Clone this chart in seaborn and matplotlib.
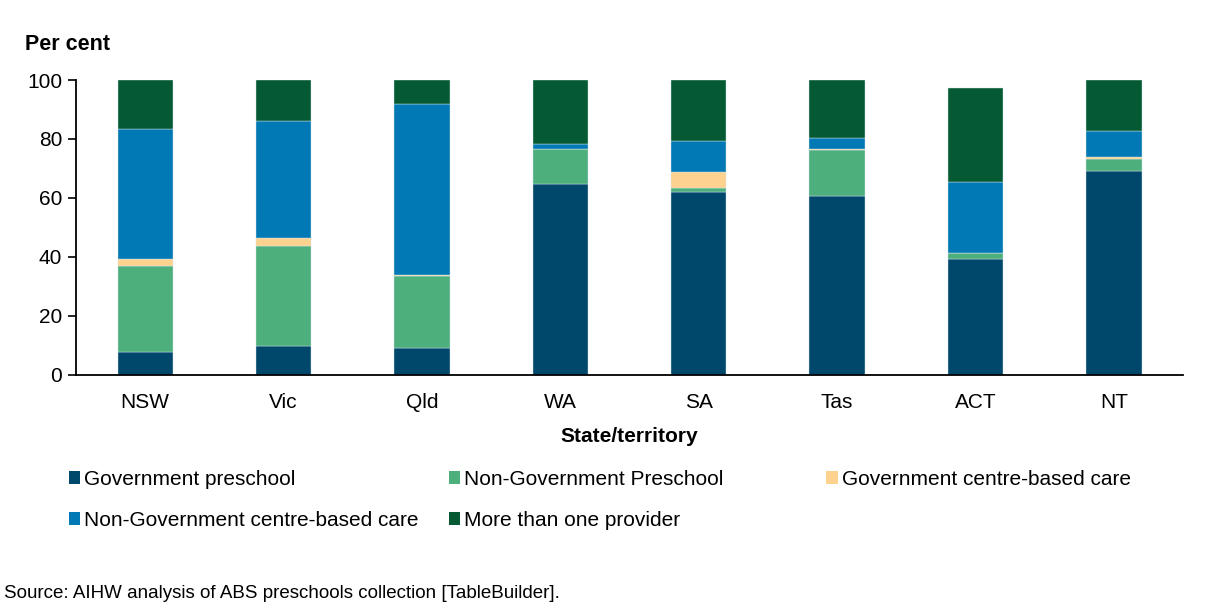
import numpy as np
import pandas as pd
import matplotlib
matplotlib.use("Agg")
import matplotlib.pyplot as plt
import seaborn as sns
from matplotlib.patches import Patch

states = ["NSW", "Vic", "Qld", "WA", "SA", "Tas", "ACT", "NT"]
gov_preschool = [7.7, 9.7, 9.2, 64.9, 62.1, 60.8, 39.3, 69.3]
nongov_preschool = [29.3, 34.1, 24.2, 11.6, 1.4, 15.5, 2.2, 4.0]
gov_cbc = [2.4, 2.6, 0.4, 0.0, 5.4, 0.3, 0.0, 0.5]
nongov_cbc = [44.1, 39.7, 58.0, 1.8, 10.4, 3.6, 23.8, 8.9]
more_than_one = [16.5, 13.9, 8.2, 21.7, 20.7, 19.8, 32.0, 17.3]

series_names = ["Government preschool", "Non-Government Preschool",
                "Government centre-based care", "Non-Government centre-based care",
                "More than one provider"]
series_vals = [gov_preschool, nongov_preschool, gov_cbc, nongov_cbc, more_than_one]
colors = ["#00486B", "#4CAF7C", "#FDD28F", "#0079B5", "#055A34"]

sns.set_theme(style="white")
plt.rcParams["font.family"] = ["Liberation Sans", "DejaVu Sans"]
plt.rcParams["text.color"] = "black"
plt.rcParams["xtick.color"] = "black"
plt.rcParams["ytick.color"] = "black"
plt.rcParams["axes.labelcolor"] = "black"

fig = plt.figure(figsize=(12.1, 6.14), dpi=100)
ax = fig.add_axes([0.0628, 0.3893, 0.9149, 0.4804])

bottom = np.zeros(len(states))
for name, vals, col in zip(series_names, series_vals, colors):
    df = pd.DataFrame({"state": states, "value": vals})
    sns.barplot(data=df, x="state", y="value", order=states, color=col,
                width=0.4, bottom=bottom, ax=ax, linewidth=0.3,
                edgecolor="#d8e6ee", saturation=1)
    bottom = bottom + np.array(vals)

ax.set_ylim(0, 100)
ax.set_xlim(-0.5, 7.5)
ax.set_yticks([0, 20, 40, 60, 80, 100])
ax.tick_params(axis="y", which="major", direction="out", length=6, width=1.2,
               color="black", labelsize=15, pad=4, left=True)
ax.tick_params(axis="x", length=0, labelsize=15, pad=13)
for s in ["top", "right"]:
    ax.spines[s].set_visible(False)
for s in ["left", "bottom"]:
    ax.spines[s].set_color("black")
    ax.spines[s].set_linewidth(1.3)
ax.set_ylabel("")
ax.set_xlabel("State/territory", fontsize=15, fontweight="bold", labelpad=11)

fig.text(0.0207, 0.927, "Per cent", fontsize=15.5, fontweight="bold", va="center", ha="left")

handles = [Patch(facecolor=c, edgecolor="none") for c in colors]
col_groups = [([0, 3], 0.050), ([1, 4], 0.364), ([2], 0.676)]
for idx, x in col_groups:
    leg = fig.legend([handles[i] for i in idx], [series_names[i] for i in idx],
                     loc="upper left", bbox_to_anchor=(x, 0.248), ncol=1,
                     frameon=False, fontsize=15, handlelength=0.55, handleheight=0.55,
                     handletextpad=0.2, labelspacing=1.05, borderaxespad=0)

fig.text(0.003, 0.034, "Source: AIHW analysis of ABS preschools collection [TableBuilder].",
         fontsize=13.5, ha="left", va="center")

fig.savefig("out.png", dpi=100)
